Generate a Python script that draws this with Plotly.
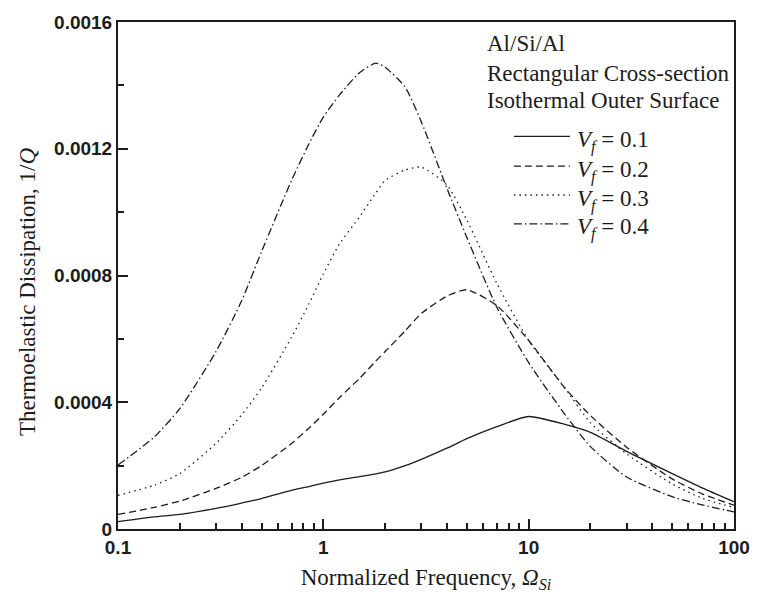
import plotly.graph_objects as go

# Normalized frequency grid (Omega_Si)
freq = [0.1, 0.15, 0.2, 0.3, 0.4, 0.5, 0.7, 0.85, 1.0, 1.2, 1.5, 1.8, 2.0, 2.5, 3.0,
        4.0, 5.0, 7.0, 10.0, 15.0, 20.0, 30.0, 50.0, 70.0, 100.0]

# Thermoelastic dissipation 1/Q for each volume fraction V_f
q_vf01 = [2.3e-5, 3.8e-5, 4.6e-5, 6.5e-5, 8.2e-5, 9.6e-5, 1.22e-4, 1.34e-4, 1.45e-4,
          1.55e-4, 1.65e-4, 1.74e-4, 1.80e-4, 2.0e-4, 2.20e-4, 2.55e-4, 2.85e-4,
          3.23e-4, 3.55e-4, 3.30e-4, 3.05e-4, 2.45e-4, 1.75e-4, 1.30e-4, 8.6e-5]
q_vf02 = [4.6e-5, 6.8e-5, 8.8e-5, 1.28e-4, 1.63e-4, 2.0e-4, 2.7e-4, 3.18e-4, 3.62e-4,
          4.15e-4, 4.75e-4, 5.3e-4, 5.6e-4, 6.25e-4, 6.8e-4, 7.35e-4, 7.55e-4,
          7.05e-4, 5.95e-4, 4.45e-4, 3.58e-4, 2.58e-4, 1.58e-4, 1.11e-4, 7.5e-5]
q_vf03 = [1.06e-4, 1.38e-4, 1.75e-4, 2.7e-4, 3.6e-4, 4.45e-4, 6.05e-4, 7.1e-4, 8.05e-4,
          9.0e-4, 9.85e-4, 1.06e-3, 1.10e-3, 1.133e-3, 1.142e-3, 1.085e-3, 9.75e-4,
          7.75e-4, 5.95e-4, 4.45e-4, 3.35e-4, 2.37e-4, 1.42e-4, 9.7e-5, 6.8e-5]
q_vf04 = [2.02e-4, 2.9e-4, 3.8e-4, 5.6e-4, 7.2e-4, 8.75e-4, 1.1e-3, 1.215e-3, 1.30e-3,
          1.37e-3, 1.44e-3, 1.47e-3, 1.457e-3, 1.395e-3, 1.285e-3, 1.075e-3, 9.2e-4,
          7.0e-4, 5.25e-4, 3.62e-4, 2.6e-4, 1.64e-4, 1.02e-4, 7.6e-5, 5.4e-5]

series_labels = ["0.1", "0.2", "0.3", "0.4"]
series_values = [q_vf01, q_vf02, q_vf03, q_vf04]
dash_styles = ["solid", "7px,4px", "1.5px,4px", "8px,3px,1.5px,3px"]

y_tickvals = [0, 0.0004, 0.0008, 0.0012, 0.0016]
y_ticktext = ["0", "0.0004", "0.0008", "0.0012", "0.0016"]
x_tickvals = [0.1, 1, 10, 100]
x_ticktext = ["0.1", "1", "10", "100"]
x_minor = [m * d for d in (0.1, 1, 10) for m in range(2, 10)]

header_lines = ["Al/Si/Al", "Rectangular Cross-section", "Isothermal Outer Surface"]

INK = "#1c1c1c"
SERIF = "Liberation Serif, Times New Roman, serif"
SANS = "Liberation Sans, Arial, sans-serif"
TXT = 23

fig = go.Figure()
for lab, vals, dash in zip(series_labels, series_values, dash_styles):
    fig.add_trace(go.Scatter(
        x=freq, y=vals, mode="lines", name=f"V_f = {lab}",
        line=dict(color=INK, width=1.3, dash=dash, shape="spline", smoothing=0.6),
        showlegend=False, hoverinfo="skip",
    ))

# Text block in the upper right corner
header_y = [0.9575, 0.8986, 0.8445]
for txt, yy in zip(header_lines, header_y):
    fig.add_annotation(xref="paper", yref="paper", x=0.5965, y=yy, text=txt,
                       showarrow=False, xanchor="left", yanchor="middle",
                       font=dict(family=SERIF, size=TXT, color=INK))

# Key for the line styles
key_y = [0.7745, 0.7157, 0.6588, 0.602]
for lab, dash, yy in zip(series_labels, dash_styles, key_y):
    fig.add_shape(type="line", xref="paper", yref="paper",
                  x0=0.6427, x1=0.7337, y0=yy, y1=yy,
                  line=dict(color=INK, width=1.3, dash=dash))
    fig.add_annotation(xref="paper", yref="paper", x=0.7416, y=yy - 0.01,
                       text=f"<i>V</i><sub><i>f</i></sub> = {lab}",
                       showarrow=False, xanchor="left", yanchor="middle",
                       font=dict(family=SERIF, size=TXT, color=INK))

# Vertical axis title
fig.add_annotation(xref="paper", yref="paper", x=-0.148, y=0.467,
                   text="Thermoelastic Dissipation, 1/<i>Q</i>", textangle=-90,
                   showarrow=False, xanchor="center", yanchor="middle",
                   font=dict(family=SERIF, size=TXT, color=INK))

fig.update_layout(
    width=762, height=609,
    margin=dict(l=118, r=17, t=19, b=80),
    paper_bgcolor="white", plot_bgcolor="white",
    showlegend=False,
)

fig.update_xaxes(
    type="log", range=[-1, 2],
    tickvals=x_tickvals, ticktext=x_ticktext,
    ticks="inside", ticklen=10, tickwidth=1.5, tickcolor=INK,
    minor=dict(tickvals=x_minor, ticks="inside", ticklen=6, tickwidth=1.5, tickcolor=INK),
    showline=True, linewidth=2, linecolor=INK, mirror=True,
    showgrid=False, zeroline=False,
    tickfont=dict(family=SANS, size=19, color=INK, weight="bold"),
    title=dict(text="Normalized Frequency, <i>Ω</i><sub><i>Si</i></sub>",
               font=dict(family=SERIF, size=TXT, color=INK), standoff=12),
)

fig.update_yaxes(
    range=[0, 0.0016],
    tickvals=y_tickvals, ticktext=y_ticktext,
    ticks="inside", ticklen=10, tickwidth=1.5, tickcolor=INK,
    minor=dict(dtick=0.0002, ticks="inside", ticklen=6, tickwidth=1.5, tickcolor=INK),
    showline=True, linewidth=2, linecolor=INK, mirror=True,
    showgrid=False, zeroline=False,
    tickfont=dict(family=SANS, size=19, color=INK, weight="bold"),
)

fig.write_html("out.html")
